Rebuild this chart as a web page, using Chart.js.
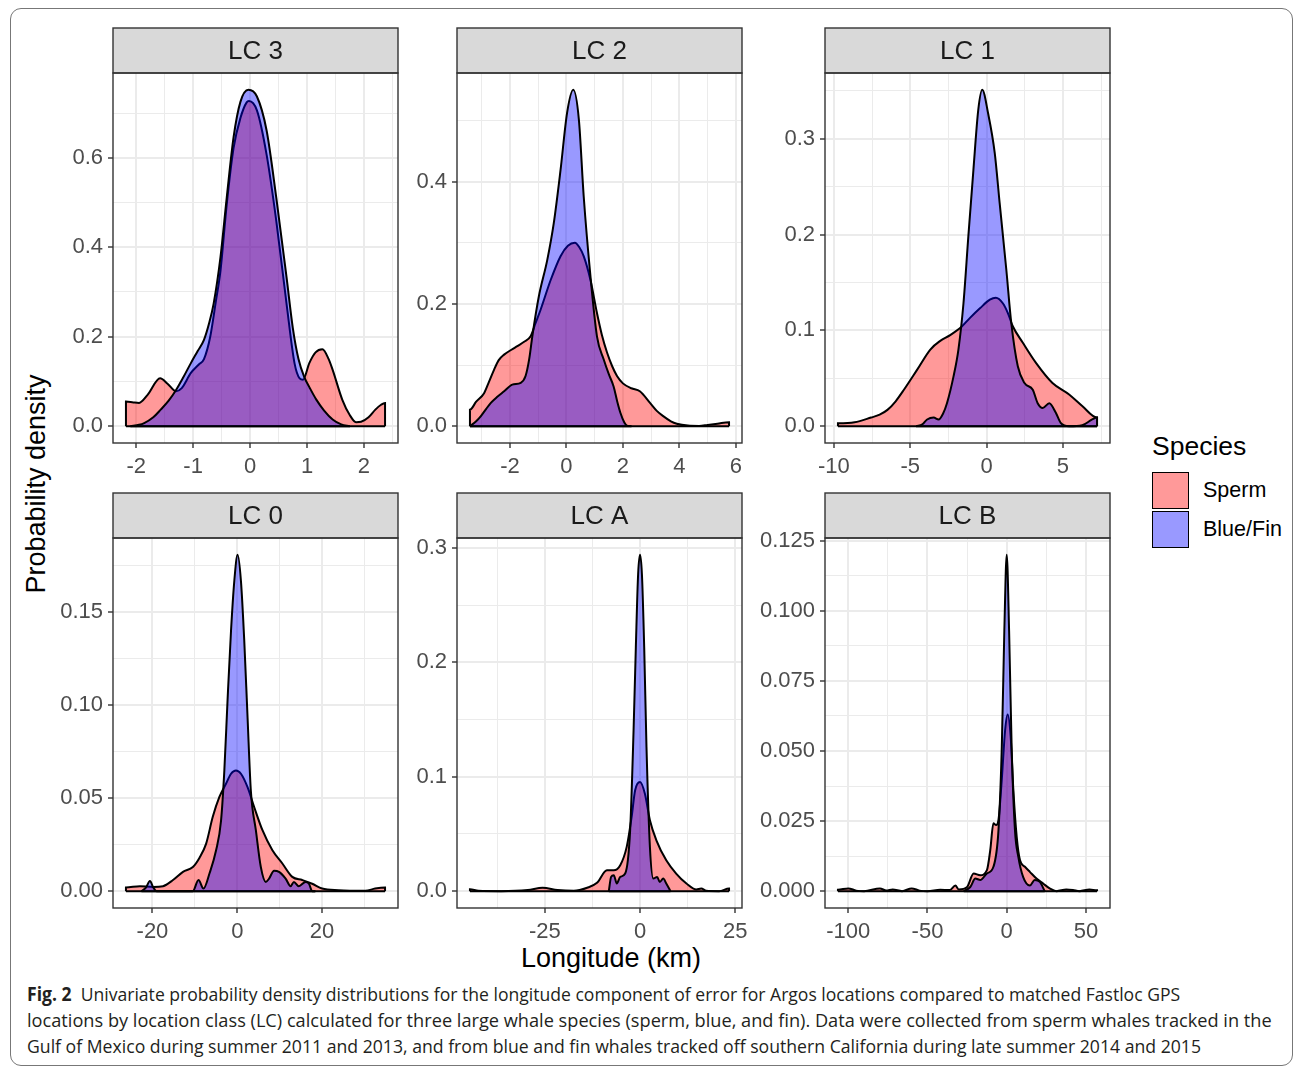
<!DOCTYPE html>
<html>
<head>
<meta charset="utf-8">
<script src="https://cdn.jsdelivr.net/npm/chart.js@4.4.1/dist/chart.umd.min.js"></script>
<style>
  body { margin: 0; background: #fff; }
  #page { position: relative; width: 1295px; height: 1067px; overflow: hidden; font-family: "Liberation Sans", Arial, Helvetica, sans-serif; }
  #frame { position: absolute; left: 10px; top: 8px; width: 1283px; height: 1058px; border: 1px solid #777; border-radius: 11px; box-sizing: border-box; }
  canvas.panel { position: absolute; }
  .title { position: absolute; color: #000; font-size: 27px; white-space: nowrap; }
  #ytitle { left: 36px; top: 484px; transform: translate(-50%, -50%) rotate(-90deg); }
  #xtitle { left: 611px; top: 958px; transform: translate(-50%, -50%); }
  #legend { position: absolute; left: 1152px; top: 430px; }
  #legend .head { position: absolute; left: 0; top: 0; font-size: 26.5px; white-space: nowrap; line-height: 32px; }
  #legend .key { position: absolute; left: 0; width: 37px; height: 37px; box-sizing: border-box; border: 1.5px solid #000; }
  #legend .lab { position: absolute; left: 51px; font-size: 21.5px; line-height: 26px; white-space: nowrap; }
  #caption { position: absolute; left: 27px; top: 981px; font-family: "Open Sans", "Noto Sans", sans-serif; font-size: 19px; color: #231F20; }
  #caption .cl { height: 26px; line-height: 26px; white-space: nowrap; transform-origin: 0 0; }
</style>
</head>
<body>
<div id="page">
  <div id="frame"></div>
  <div id="ytitle" class="title">Probability density</div>
  <div id="xtitle" class="title">Longitude (km)</div>
  <div id="legend">
    <div class="head">Species</div>
    <div class="key" style="top:42px;background:rgba(255,0,0,0.4)"></div>
    <div class="lab" style="top:47px">Sperm</div>
    <div class="key" style="top:81px;background:rgba(0,0,255,0.4)"></div>
    <div class="lab" style="top:86px">Blue/Fin</div>
  </div>
  <div id="caption">
    <div class="cl" data-w="1203"><b>Fig. 2</b>&nbsp; Univariate probability density distributions for the longitude component of error for Argos locations compared to matched Fastloc GPS</div>
    <div class="cl" data-w="1245">locations by location class (LC) calculated for three large whale species (sperm, blue, and fin). Data were collected from sperm whales tracked in the</div>
    <div class="cl" data-w="1208">Gulf of Mexico during summer 2011 and 2013, and from blue and fin whales tracked off southern California during late summer 2014 and 2015</div>
  </div>
</div>
<script>
// panel titles, in facet order
const panelTitles = ['LC 3', 'LC 2', 'LC 1', 'LC 0', 'LC A', 'LC B'];

// density curves: [longitude km, density]
const lc3Sperm = [[-2.18,0],[-2.18,0.055],[-2.05,0.053],[-1.95,0.052],[-1.8,0.07],[-1.58,0.107],[-1.45,0.095],[-1.3,0.078],[-1.2,0.085],[-1.04,0.119],[-0.9,0.138],[-0.81,0.15],[-0.7,0.2],[-0.6,0.28],[-0.52,0.348],[-0.41,0.496],[-0.29,0.622],[-0.17,0.689],[-0.06,0.724],[-0.02,0.727],[0.12,0.706],[0.29,0.607],[0.46,0.459],[0.64,0.274],[0.78,0.141],[0.87,0.107],[0.93,0.104],[1.04,0.141],[1.15,0.165],[1.27,0.172],[1.38,0.15],[1.45,0.126],[1.62,0.059],[1.75,0.025],[1.86,0.009],[1.95,0.01],[2.08,0.02],[2.2,0.037],[2.3,0.048],[2.37,0.052],[2.37,0]];
const lc3Blue = [[-2.1,0],[-1.95,0.003],[-1.86,0.007],[-1.7,0.02],[-1.57,0.037],[-1.43,0.057],[-1.3,0.081],[-1.17,0.11],[-1.04,0.141],[-0.92,0.168],[-0.81,0.193],[-0.72,0.23],[-0.64,0.274],[-0.52,0.378],[-0.41,0.511],[-0.29,0.646],[-0.17,0.725],[-0.03,0.752],[0.12,0.737],[0.29,0.661],[0.46,0.511],[0.64,0.333],[0.75,0.22],[0.85,0.15],[0.95,0.11],[1.05,0.085],[1.16,0.06],[1.3,0.035],[1.45,0.015],[1.6,0.004],[1.75,0]];

const lc2Sperm = [[-3.42,0],[-3.42,0.027],[-3.2,0.04],[-2.92,0.054],[-2.75,0.072],[-2.56,0.093],[-2.4,0.108],[-2.21,0.117],[-1.95,0.125],[-1.74,0.131],[-1.5,0.138],[-1.27,0.147],[-1.1,0.168],[-0.92,0.19],[-0.56,0.239],[-0.21,0.278],[0.05,0.295],[0.3,0.3],[0.45,0.293],[0.61,0.278],[0.85,0.239],[1.08,0.185],[1.25,0.15],[1.44,0.12],[1.62,0.098],[1.79,0.082],[2,0.07],[2.3,0.062],[2.6,0.057],[2.96,0.038],[3.2,0.025],[3.44,0.016],[3.7,0.008],[3.91,0.004],[4.3,0.001],[4.7,0.0005],[5,0.002],[5.35,0.004],[5.76,0.0065],[5.76,0]];
const lc2Blue = [[-3.42,0],[-3.2,0.008],[-3.04,0.016],[-2.85,0.028],[-2.68,0.038],[-2.45,0.048],[-2.21,0.057],[-1.92,0.068],[-1.62,0.071],[-1.45,0.082],[-1.32,0.11],[-1.21,0.147],[-0.98,0.212],[-0.68,0.272],[-0.45,0.332],[-0.21,0.419],[0.02,0.512],[0.24,0.55],[0.44,0.501],[0.61,0.376],[0.85,0.245],[1.08,0.147],[1.32,0.109],[1.5,0.085],[1.67,0.065],[1.8,0.04],[1.91,0.022],[2.05,0.006],[2.14,0.001],[2.3,0]];

const lc1Sperm = [[-9.73,0],[-9.73,0.003],[-8.64,0.004],[-7.56,0.009],[-7,0.012],[-6.49,0.017],[-5.95,0.026],[-5.41,0.038],[-4.54,0.059],[-3.68,0.08],[-3.03,0.089],[-2.38,0.095],[-1.62,0.104],[-1.08,0.113],[-0.43,0.123],[0.22,0.132],[0.61,0.134],[1.08,0.128],[1.4,0.118],[1.73,0.104],[2.38,0.087],[3.24,0.066],[4.32,0.045],[5.41,0.033],[6.27,0.021],[7.24,0.009],[7.24,0]];
const lc1Blue = [[-4.6,0],[-4.2,0.002],[-3.89,0.007],[-3.46,0.009],[-3.14,0.007],[-2.85,0.013],[-2.59,0.024],[-2.16,0.052],[-1.84,0.08],[-1.51,0.128],[-1.19,0.198],[-0.86,0.267],[-0.54,0.33],[-0.28,0.351],[0.11,0.326],[0.54,0.285],[0.86,0.233],[1.3,0.163],[1.62,0.108],[2.05,0.0625],[2.49,0.045],[3.03,0.038],[3.35,0.024],[3.68,0.019],[4.11,0.024],[4.54,0.014],[4.86,0.0035],[5.41,0],[6.27,0.001],[6.92,0.007],[7.24,0.009],[7.24,0]];

const lc0Sperm = [[-26.25,0],[-26.25,0.002],[-22.97,0.0027],[-19.84,0.0023],[-17.5,0.0027],[-15.16,0.006],[-12.81,0.0104],[-10.47,0.013],[-8.9,0.018],[-7.34,0.0256],[-5.78,0.04],[-4.22,0.0507],[-2.66,0.0578],[-1.48,0.0632],[-0.31,0.065],[0.86,0.0632],[2.42,0.056],[3.98,0.0453],[5.94,0.0328],[8.28,0.022],[10.63,0.0149],[12.97,0.0077],[15.31,0.006],[17.66,0.004],[20,0.0014],[23.9,0.0005],[30.2,0.0002],[32.5,0.0014],[34.84,0.002],[34.84,0]];
const lc0Blue = [[-22.6,0],[-21.5,0.002],[-20.6,0.0055],[-19.8,0.002],[-19.06,0],[-10.5,0],[-9.14,0.006],[-7.97,0.0014],[-6.56,0.0095],[-5,0.022],[-3.83,0.038],[-3.05,0.065],[-2.27,0.104],[-1.48,0.14],[-0.7,0.167],[0.08,0.181],[0.86,0.167],[1.64,0.135],[2.42,0.0936],[3.2,0.054],[4.38,0.0328],[5.55,0.013],[6.72,0.005],[7.5,0.0068],[8.67,0.011],[9.84,0.0104],[11.4,0.0068],[12.58,0.0027],[13.36,0.005],[14.5,0.0027],[16.1,0.005],[16.9,0.004],[17.66,0],[18.4,0]];

const lcASperm = [[-44.7,0],[-44.7,0.0017],[-42.5,0.0003],[-36.5,0],[-29.5,0.001],[-25.6,0.003],[-21.7,0.001],[-17.4,0.0003],[-13.9,0.003],[-11.3,0.0073],[-8.7,0.0183],[-6.9,0.0183],[-5.2,0.0227],[-3.5,0.0387],[-2.2,0.065],[-1.3,0.088],[0,0.0954],[1.3,0.085],[2.6,0.062],[4.3,0.0445],[6.9,0.027],[9.5,0.0154],[12.2,0.0067],[14.8,0.0015],[16.1,0.0023],[17.4,0.0003],[20.8,0],[23.4,0.0023],[23.4,0]];
const lcABlue = [[-8.2,0],[-7.6,0.0125],[-6.9,0.014],[-6.1,0.0067],[-5.2,0.0125],[-3.9,0.0154],[-2.6,0.053],[-1.7,0.14],[-1.1,0.213],[-0.5,0.277],[0,0.294],[0.5,0.277],[1.1,0.213],[1.7,0.126],[2.6,0.0387],[3.5,0.011],[4.5,0.0125],[5.2,0.008],[6.1,0.011],[6.9,0.0067],[8,0]];

const lcBSperm = [[-106.5,0],[-106.5,0.0005],[-100,0.001],[-95,0.0002],[-90,0],[-80,0.001],[-76,0.0002],[-72,0.0006],[-66,0],[-60,0.001],[-55,0.0002],[-50,0],[-42,0.0005],[-36,0.0004],[-32.4,0.002],[-30.3,0.0006],[-25,0.0015],[-20.9,0.0063],[-16.7,0.0057],[-12.5,0.0075],[-10.4,0.0146],[-8.4,0.0242],[-6.7,0.0236],[-5.2,0.0254],[-3.1,0.04],[-1,0.0575],[0.6,0.063],[2.5,0.055],[4.2,0.036],[6.3,0.0194],[8.4,0.011],[11.5,0.0087],[14.6,0.0069],[18.8,0.0045],[23,0.0027],[27.1,0.001],[31.3,0],[37.6,0.0006],[41.8,0.0004],[45.9,0],[52.2,0.0006],[57,0.0003],[57,0]];
const lcBBlue = [[-27.1,0],[-23,0.0015],[-19.8,0.0045],[-16.7,0.004],[-12.5,0.0063],[-8.4,0.0087],[-5.2,0.0218],[-3.1,0.0515],[-1.5,0.093],[0,0.12],[1.5,0.093],[3.1,0.0515],[5.2,0.0218],[7.3,0.0123],[10.4,0.005],[14.6,0.002],[17.7,0.004],[20.9,0.0033],[24,0]];

// tick labels per panel
const lc3XLabels = ['-2', '-1', '0', '1', '2'];
const lc3YLabels = ['0.0', '0.2', '0.4', '0.6'];
const lc2XLabels = ['-2', '0', '2', '4', '6'];
const lc2YLabels = ['0.0', '0.2', '0.4'];
const lc1XLabels = ['-10', '-5', '0', '5'];
const lc1YLabels = ['0.0', '0.1', '0.2', '0.3'];
const lc0XLabels = ['-20', '0', '20'];
const lc0YLabels = ['0.00', '0.05', '0.10', '0.15'];
const lcAXLabels = ['-25', '0', '25'];
const lcAYLabels = ['0.0', '0.1', '0.2', '0.3'];
const lcBXLabels = ['-100', '-50', '0', '50'];
const lcBYLabels = ['0.000', '0.025', '0.050', '0.075', '0.100', '0.125'];

const panelData = [
  [lc3Sperm, lc3Blue, lc3XLabels, lc3YLabels],
  [lc2Sperm, lc2Blue, lc2XLabels, lc2YLabels],
  [lc1Sperm, lc1Blue, lc1XLabels, lc1YLabels],
  [lc0Sperm, lc0Blue, lc0XLabels, lc0YLabels],
  [lcASperm, lcABlue, lcAXLabels, lcAYLabels],
  [lcBSperm, lcBBlue, lcBXLabels, lcBYLabels]
];

// layout (page pixels)
const COL_X = [113, 457, 825];
const ROW_Y = [73, 538];
const PANEL_W = 285, PANEL_H = 370, STRIP_H = 45;
const Y_AXIS_W = 72, X_AXIS_H = 42, PAD = 16;

const SPERM_FILL = 'rgba(255,0,0,0.4)';
const BLUE_FILL = 'rgba(0,0,255,0.4)';
const GRID = '#EBEBEB';
const INK = '#333333';

Chart.defaults.font.family = '"Liberation Sans", Arial, Helvetica, sans-serif';

// strip header + panel border, like facet_wrap in theme_bw
const facetFrame = {
    id: 'facetFrame',
    afterDraw(chart, args, opts) {
        const { ctx, chartArea: a } = chart;
        const w = a.right - a.left;
        ctx.save();
        ctx.fillStyle = '#D9D9D9';
        ctx.fillRect(a.left, a.top - STRIP_H, w, STRIP_H);
        ctx.strokeStyle = INK;
        ctx.lineWidth = 1.4;
        ctx.strokeRect(a.left, a.top - STRIP_H, w, STRIP_H);
        ctx.strokeRect(a.left, a.top, w, a.bottom - a.top);
        ctx.fillStyle = '#1A1A1A';
        ctx.font = '26px "Liberation Sans", Arial, sans-serif';
        ctx.textAlign = 'center';
        ctx.textBaseline = 'middle';
        ctx.fillText(opts.title, a.left + w / 2, a.top - STRIP_H / 2 + 1);
        ctx.restore();
    }
};

// major breaks from the labels, minor breaks halfway between (ggplot style)
function breaks(labels, lo, hi) {
    const majors = labels.map(parseFloat);
    const step = majors[1] - majors[0];
    const minors = [majors[0] - step / 2, ...majors.map(v => v + step / 2)]
        .filter(v => v > lo && v < hi);
    return { majors, step, all: majors.concat(minors).sort((a, b) => a - b) };
}

function axisOptions(labels, lo, hi, isX) {
    const b = breaks(labels, lo, hi);
    const majorIndex = v => b.majors.findIndex(m => Math.abs(m - v) < b.step * 1e-6);
    return {
        type: 'linear',
        bounds: 'data',
        min: lo,
        max: hi,
        afterBuildTicks: scale => { scale.ticks = b.all.map(v => ({ value: v })); },
        afterFit: scale => {
            if (isX) scale.height = X_AXIS_H; else scale.width = Y_AXIS_W;
        },
        ticks: {
            autoSkip: false,
            maxRotation: 0,
            padding: isX ? 6 : 5,
            color: '#4D4D4D',
            font: { size: 22 },
            callback: value => {
                const i = majorIndex(value);
                return i >= 0 ? labels[i] : '';
            }
        },
        grid: {
            color: GRID,
            lineWidth: ctx => (ctx.tick && majorIndex(ctx.tick.value) >= 0 ? 2 : 1),
            drawTicks: true,
            tickLength: 5,
            tickWidth: 1.4,
            tickColor: ctx => (ctx.tick && majorIndex(ctx.tick.value) >= 0 ? INK : 'rgba(0,0,0,0)')
        },
        border: { display: false }
    };
}

function curve(points, fill) {
    return {
        data: points,
        borderColor: '#000',
        borderWidth: 2,
        backgroundColor: fill,
        fill: 'origin',
        pointRadius: 0,
        cubicInterpolationMode: 'monotone'
    };
}

function baseline(points) {
    return {
        data: [[points[0][0], 0], [points[points.length - 1][0], 0]],
        borderColor: '#000',
        borderWidth: 2,
        fill: false,
        pointRadius: 0
    };
}

function buildPanel(i) {
    const [sperm, blue, xLabels, yLabels] = panelData[i];
    const xs = sperm.concat(blue).map(p => p[0]);
    const ys = sperm.concat(blue).map(p => p[1]);
    const xMin = Math.min(...xs), xMax = Math.max(...xs);
    const yMax = Math.max(...ys);
    const xPad = (xMax - xMin) * 0.05;

    const canvas = document.createElement('canvas');
    canvas.className = 'panel';
    const left = COL_X[i % 3] - Y_AXIS_W - PAD;
    const top = ROW_Y[Math.floor(i / 3)] - STRIP_H - PAD;
    canvas.width = PAD * 2 + Y_AXIS_W + PANEL_W;
    canvas.height = PAD * 2 + STRIP_H + PANEL_H + X_AXIS_H;
    canvas.style.left = left + 'px';
    canvas.style.top = top + 'px';
    document.getElementById('page').appendChild(canvas);

    // index 0 is drawn last: blue/fin sits on top of sperm, as in the figure
    new Chart(canvas, {
        type: 'line',
        data: {
            datasets: [baseline(blue), curve(blue, BLUE_FILL), baseline(sperm), curve(sperm, SPERM_FILL)]
        },
        options: {
            responsive: false,
            animation: false,
            events: [],
            layout: { padding: { left: PAD, right: PAD, top: PAD + STRIP_H, bottom: PAD } },
            scales: {
                x: axisOptions(xLabels, xMin - xPad, xMax + xPad, true),
                y: axisOptions(yLabels, -0.05 * yMax, yMax * 1.05, false)
            },
            plugins: {
                legend: { display: false },
                tooltip: { enabled: false },
                facetFrame: { title: panelTitles[i] }
            }
        },
        plugins: [facetFrame]
    });
}

for (let i = 0; i < panelTitles.length; i++) buildPanel(i);

// caption lines set in a narrower face than Open Sans; squeeze to the printed width
document.querySelectorAll('#caption .cl').forEach(el => {
    const target = Number(el.dataset.w);
    const w = el.scrollWidth;
    el.style.transform = 'scaleX(' + (target / w) + ')';
});
</script>
</body>
</html>
